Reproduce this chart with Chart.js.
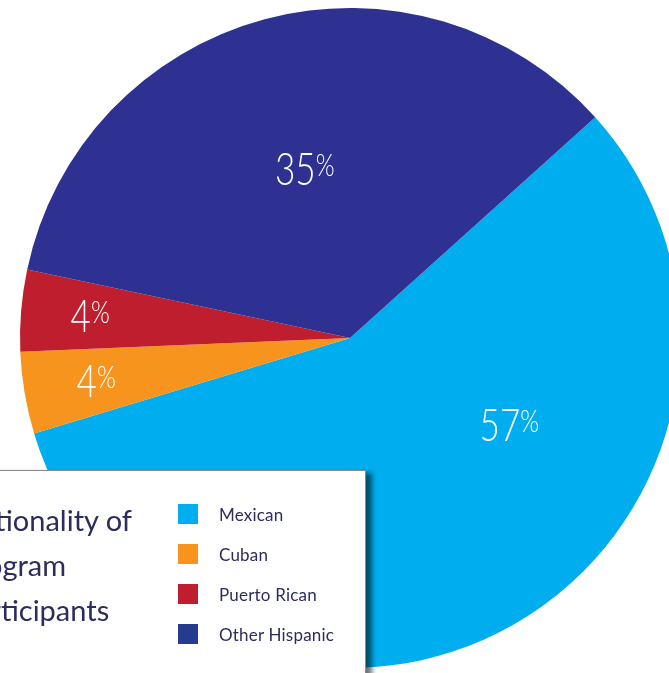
<!DOCTYPE html>
<html lang="en">
<head>
<meta charset="UTF-8">
<script src="https://cdn.jsdelivr.net/npm/chart.js"></script>
<style>
  html, body { margin: 0; padding: 0; background: #fff; overflow: hidden; width: 669px; height: 673px; }
  #wrap { position: relative; width: 669px; height: 673px; overflow: hidden; }
  #pie { position: absolute; left: 0; top: 0; }
  #key {
    position: absolute; left: -12px; top: 470px; width: 376px; height: 230px;
    background: #fff; border: 1px solid #8a8a8a;
    box-shadow: 6px 3px 5px rgba(0,0,0,0.55);
    font-family: "Lato", "Open Sans", sans-serif; color: #2b2d5c;
  }
  #title {
    position: absolute; left: -30px; top: 26px; font-size: 29px; line-height: 45px; white-space: nowrap;
  }
  #items { position: absolute; left: 189px; top: 23px; }
  .item { height: 40px; display: flex; align-items: center; font-size: 17px; letter-spacing: 0.2px; }
  .sw { width: 20px; height: 20px; margin-right: 21px; }
</style>
</head>
<body>
<div id="wrap">
  <canvas id="pie" width="700" height="673"></canvas>
  <div id="key">
    <div id="title">Nationality of<br>Program<br>Participants</div>
    <div id="items"></div>
  </div>
</div>
<script>
  const groups = ['Mexican', 'Cuban', 'Puerto Rican', 'Other Hispanic'];
  const shares = [57, 4, 4, 35];
  const sliceColors = ['#00aeef', '#f7941d', '#be1e2d', '#2e3192'];
  const keyColors = ['#00aeef', '#f7941d', '#be1e2d', '#253c8e'];

  // where each percentage sits: fraction of radius, and turn off the mid-angle (degrees)
  const labelRadius = [0.55, 0.78, 0.79, 0.53];
  const labelTurn = [-32, 0, 0, 0];

  const items = document.getElementById('items');
  groups.forEach((g, i) => {
    const row = document.createElement('div');
    row.className = 'item';
    row.innerHTML = '<span class="sw" style="background:' + keyColors[i] + '"></span>' + g;
    items.appendChild(row);
  });

  // thin, narrow figures with a smaller raised percent sign
  const pctLabels = {
    id: 'pctLabels',
    afterDatasetsDraw(chart) {
      const ctx = chart.ctx;
      const meta = chart.getDatasetMeta(0);
      const squeeze = 0.78;
      const numFont = '300 45px Lato, "Open Sans", sans-serif';
      const pctFont = '300 31px Lato, "Open Sans", sans-serif';
      ctx.save();
      ctx.fillStyle = '#fff';
      ctx.textBaseline = 'alphabetic';
      ctx.textAlign = 'left';
      meta.data.forEach((arc, i) => {
        const p = arc.getProps(['x', 'y', 'startAngle', 'endAngle', 'outerRadius'], true);
        const a = (p.startAngle + p.endAngle) / 2 + labelTurn[i] * Math.PI / 180;
        const r = p.outerRadius * labelRadius[i];
        const cx = p.x + Math.cos(a) * r;
        const cy = p.y + Math.sin(a) * r;
        const num = String(shares[i]);
        ctx.font = numFont;
        const wNum = ctx.measureText(num).width;
        ctx.font = pctFont;
        const wPct = ctx.measureText('%').width;
        const total = (wNum + wPct) * squeeze;
        ctx.save();
        ctx.translate(cx - total / 2, cy + 16);
        ctx.scale(squeeze, 1);
        ctx.font = numFont;
        ctx.fillText(num, 0, 0);
        ctx.font = pctFont;
        ctx.fillText('%', wNum, -9);
        ctx.restore();
      });
      ctx.restore();
    }
  };

  new Chart(document.getElementById('pie'), {
    type: 'pie',
    data: {
      labels: groups,
      datasets: [{
        data: shares,
        backgroundColor: sliceColors,
        borderWidth: 0
      }]
    },
    plugins: [pctLabels],
    options: {
      responsive: false,
      animation: false,
      rotation: 48,
      layout: { padding: { left: 20, top: 8, right: 20, bottom: 5 } },
      plugins: { legend: { display: false }, tooltip: { enabled: false } }
    }
  });
</script>
</body>
</html>
